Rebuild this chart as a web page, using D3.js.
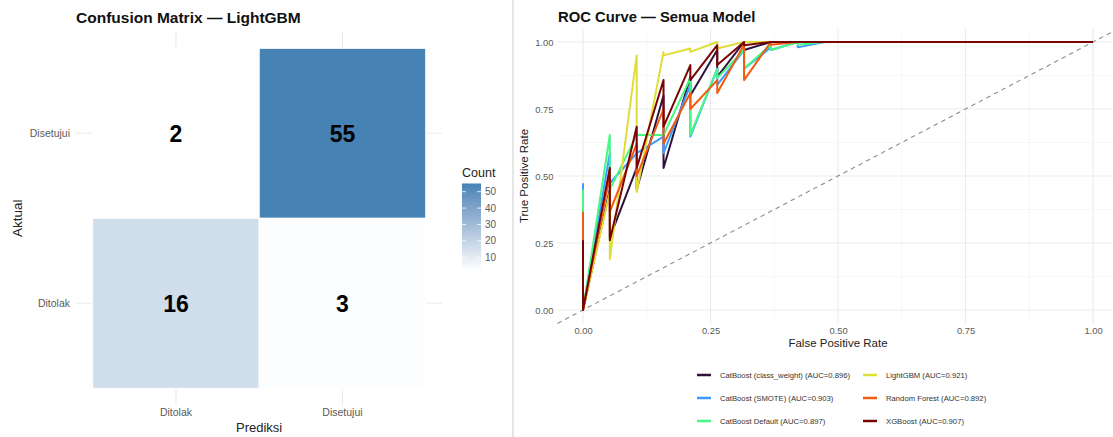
<!DOCTYPE html>
<html>
<head>
<meta charset="utf-8">
<script src="https://cdn.jsdelivr.net/npm/d3@7"></script>
<style>
  body { margin: 0; background: #fff; }
  svg { display: block; font-family: "Liberation Sans", Arial, Helvetica, sans-serif; }
</style>
</head>
<body>
<svg id="chart" width="1113" height="437"></svg>
<script>
// ---- Confusion matrix (LightGBM) ----
const predLabels = ["Ditolak", "Disetujui"];
const actualLabels = ["Ditolak", "Disetujui"];
const cellPred = ["Ditolak", "Disetujui", "Ditolak", "Disetujui"];
const cellActual = ["Disetujui", "Disetujui", "Ditolak", "Ditolak"];
const cellCount = [2, 55, 16, 3];
const countTicks = [10, 20, 30, 40, 50];

// ---- ROC curves: TPR reached at each FPR step ----
const fprSteps = [0, 0.0526, 0.1053, 0.1579, 0.2105, 0.2632, 0.3158, 0.3684, 0.4211, 0.4737];
const modelNames = ["CatBoost (class_weight)", "CatBoost (SMOTE)", "CatBoost Default", "LightGBM", "Random Forest", "XGBoost"];
const modelAUC = [0.896, 0.903, 0.897, 0.921, 0.892, 0.907];
const tprCatBoostCW      = [0.27, 0.45, 0.53, 0.80, 0.87, 0.97, 1.0, 1.0];
const tprCatBoostSMOTE   = [0.473, 0.585, 0.585, 0.647, 0.84, 0.90, 0.97, 0.98, 1.0, 1.0];
const tprCatBoostDefault = [0.45, 0.653, 0.653, 0.653, 0.865, 0.90, 0.97, 0.99, 1.0, 1.0];
const tprLightGBM        = [0.19, 0.44, 0.95, 0.963, 0.976, 1.0, 1.0];
const tprRandomForest    = [0.367, 0.50, 0.62, 0.75, 0.81, 0.858, 0.99, 1.0, 1.0];
const tprXGBoost         = [0.26, 0.53, 0.684, 0.858, 0.914, 0.988, 1.0, 1.0];
const modelColors = ["#30123B", "#3E9BFE", "#46F884", "#E1DD37", "#F05B12", "#7A0403"];
const axisTicks = [0, 0.25, 0.5, 0.75, 1];
const minorTicks = [0.125, 0.375, 0.625, 0.875];

const svg = d3.select("#chart");
const gridColor = "#ebebeb";
const textGray = "#5a5a5a";

// divider between the two plots
svg.append("line").attr("x1", 513).attr("x2", 513).attr("y1", 0).attr("y2", 437)
  .attr("stroke", "#dcdcdc").attr("stroke-width", 1.5);

// =========== left: confusion matrix ===========
const cm = svg.append("g");
const panelL = { left: 76, right: 442.3, top: 31.3, bottom: 405.3 };
const xCM = d3.scaleBand().domain(predLabels).range([92.7, 425.7]);
const yCM = d3.scaleBand().domain(actualLabels.slice().reverse()).range([48.3, 388.3]);
const fill = d3.scaleLinear().domain([2, 55]).range(["#ffffff", "steelblue"]).interpolate(d3.interpolateLab);

// grid lines through category centres
predLabels.forEach(p => {
  const cx = xCM(p) + xCM.bandwidth() / 2;
  cm.append("line").attr("x1", cx).attr("x2", cx).attr("y1", panelL.top).attr("y2", panelL.bottom)
    .attr("stroke", gridColor).attr("stroke-width", 1.1);
});
actualLabels.forEach(a => {
  const cy = yCM(a) + yCM.bandwidth() / 2;
  cm.append("line").attr("x1", panelL.left).attr("x2", panelL.right).attr("y1", cy).attr("y2", cy)
    .attr("stroke", gridColor).attr("stroke-width", 1.1);
});

const cells = cellCount.map((n, i) => ({ pred: cellPred[i], actual: cellActual[i], n }));
cm.selectAll("rect.cell").data(cells).join("rect")
  .attr("class", "cell")
  .attr("x", d => xCM(d.pred)).attr("y", d => yCM(d.actual))
  .attr("width", xCM.bandwidth()).attr("height", yCM.bandwidth())
  .attr("fill", d => fill(d.n)).attr("stroke", "#fff").attr("stroke-width", 1);
cm.selectAll("text.val").data(cells).join("text")
  .attr("class", "val")
  .attr("x", d => xCM(d.pred) + xCM.bandwidth() / 2)
  .attr("y", d => yCM(d.actual) + yCM.bandwidth() / 2)
  .attr("dy", "0.36em").attr("text-anchor", "middle")
  .attr("font-size", 23).attr("font-weight", "bold").attr("fill", "#000")
  .text(d => d.n);

// axes
const axL = cm.append("g").attr("transform", `translate(${panelL.left},0)`)
  .call(d3.axisLeft(yCM).tickSize(0).tickPadding(6));
const axB = cm.append("g").attr("transform", `translate(0,${panelL.bottom})`)
  .call(d3.axisBottom(xCM).tickSize(0).tickPadding(3));
[axL, axB].forEach(a => {
  a.select(".domain").remove();
  a.selectAll("text").attr("font-size", 10.5).attr("fill", textGray).attr("font-family", null);
});

cm.append("text").attr("x", (panelL.left + panelL.right) / 2).attr("y", 432)
  .attr("text-anchor", "middle").attr("font-size", 13).attr("fill", "#222").text("Prediksi");
cm.append("text").attr("transform", `translate(21.5,${(panelL.top + panelL.bottom) / 2}) rotate(-90)`)
  .attr("text-anchor", "middle").attr("font-size", 13.5).attr("fill", "#222").text("Aktual");
cm.append("text").attr("x", 76).attr("y", 23).attr("font-size", 15.5).attr("font-weight", "bold")
  .attr("fill", "#111").text("Confusion Matrix — LightGBM");

// colour bar legend
const barY = d3.scaleLinear().domain([2, 55]).range([270.4, 183.5]);
const defs = svg.append("defs");
const grad = defs.append("linearGradient").attr("id", "countGrad")
  .attr("x1", 0).attr("x2", 0).attr("y1", 1).attr("y2", 0);
d3.range(0, 1.0001, 0.1).forEach(t => {
  grad.append("stop").attr("offset", t).attr("stop-color", fill(2 + t * 53));
});
const barX = 462, barW = 19;
cm.append("rect").attr("x", barX).attr("y", barY(55)).attr("width", barW)
  .attr("height", barY(2) - barY(55)).attr("fill", "url(#countGrad)");
countTicks.forEach(v => {
  const ty = barY(v);
  cm.append("line").attr("x1", barX).attr("x2", barX + 4).attr("y1", ty).attr("y2", ty).attr("stroke", "#fff").attr("stroke-width", 0.8);
  cm.append("line").attr("x1", barX + barW - 4).attr("x2", barX + barW).attr("y1", ty).attr("y2", ty).attr("stroke", "#fff").attr("stroke-width", 0.8);
  cm.append("text").attr("x", barX + barW + 4).attr("y", ty).attr("dy", "0.35em")
    .attr("font-size", 10).attr("fill", textGray).text(v);
});
cm.append("text").attr("x", barX).attr("y", 177).attr("font-size", 12.5).attr("fill", "#222").text("Count");

// =========== right: ROC curves ===========
const roc = svg.append("g");
const xR = d3.scaleLinear().domain([-0.05, 1.05]).range([557.5, 1118.5]);
const yR = d3.scaleLinear().domain([-0.05, 1.05]).range([323.4, 28.6]);

minorTicks.forEach(v => {
  roc.append("line").attr("x1", xR(v)).attr("x2", xR(v)).attr("y1", yR(-0.05)).attr("y2", yR(1.05))
    .attr("stroke", "#f3f3f3").attr("stroke-width", 0.7);
  roc.append("line").attr("x1", xR(-0.05)).attr("x2", xR(1.05)).attr("y1", yR(v)).attr("y2", yR(v))
    .attr("stroke", "#f3f3f3").attr("stroke-width", 0.7);
});
axisTicks.forEach(v => {
  roc.append("line").attr("x1", xR(v)).attr("x2", xR(v)).attr("y1", yR(-0.05)).attr("y2", yR(1.05))
    .attr("stroke", gridColor).attr("stroke-width", 1.1);
  roc.append("line").attr("x1", xR(-0.05)).attr("x2", xR(1.05)).attr("y1", yR(v)).attr("y2", yR(v))
    .attr("stroke", gridColor).attr("stroke-width", 1.1);
});

// chance diagonal
roc.append("line").attr("x1", xR(-0.05)).attr("y1", yR(-0.05)).attr("x2", xR(1.05)).attr("y2", yR(1.05))
  .attr("stroke", "#8c8c8c").attr("stroke-width", 1.1).attr("stroke-dasharray", "4.5,4");

// each curve is traced FPR-sorted: at every step it drops from the new TPR back to the previous one
function rocPoints(tpr) {
  const pts = [];
  tpr.forEach((t, k) => {
    pts.push([fprSteps[k], t]);
    pts.push([fprSteps[k], k === 0 ? 0 : tpr[k - 1]]);
  });
  pts.push([1, 1]);
  return pts;
}
const modelTPR = [tprCatBoostCW, tprCatBoostSMOTE, tprCatBoostDefault, tprLightGBM, tprRandomForest, tprXGBoost];
const line = d3.line().x(d => xR(d[0])).y(d => yR(d[1]));
modelTPR.forEach((tpr, i) => {
  roc.append("path").attr("d", line(rocPoints(tpr)))
    .attr("fill", "none").attr("stroke", modelColors[i]).attr("stroke-width", 2)
    .attr("stroke-linejoin", "round");
});

const axY = roc.append("g").attr("transform", `translate(${xR(-0.05)},0)`)
  .call(d3.axisLeft(yR).tickValues(axisTicks).tickFormat(d3.format(".2f")).tickSize(0).tickPadding(4));
const axX = roc.append("g").attr("transform", `translate(0,${yR(-0.05)})`)
  .call(d3.axisBottom(xR).tickValues(axisTicks).tickFormat(d3.format(".2f")).tickSize(0).tickPadding(4));
[axX, axY].forEach(a => {
  a.select(".domain").remove();
  a.selectAll("text").attr("font-size", 9.4).attr("fill", textGray).attr("font-family", null);
});

roc.append("text").attr("x", (xR(-0.05) + xR(1.05)) / 2).attr("y", 347)
  .attr("text-anchor", "middle").attr("font-size", 11.5).attr("fill", "#222").text("False Positive Rate");
roc.append("text").attr("transform", `translate(528,${(yR(-0.05) + yR(1.05)) / 2}) rotate(-90)`)
  .attr("text-anchor", "middle").attr("font-size", 11.5).attr("fill", "#222").text("True Positive Rate");
roc.append("text").attr("x", 558).attr("y", 22).attr("font-size", 14.8).attr("font-weight", "bold")
  .attr("fill", "#111").text("ROC Curve — Semua Model");

// legend: two columns, filled column-wise
const legCols = [697, 863], legRows = [375, 398, 421];
modelNames.forEach((name, i) => {
  const col = Math.floor(i / 3), row = i % 3;
  const lx = legCols[col], ly = legRows[row];
  roc.append("line").attr("x1", lx).attr("x2", lx + 14).attr("y1", ly).attr("y2", ly)
    .attr("stroke", modelColors[i]).attr("stroke-width", 2.5);
  roc.append("text").attr("x", lx + 23).attr("y", ly).attr("dy", "0.35em")
    .attr("font-size", 7.7).attr("fill", "#333")
    .text(`${name} (AUC=${modelAUC[i].toFixed(3)})`);
});
</script>
</body>
</html>
